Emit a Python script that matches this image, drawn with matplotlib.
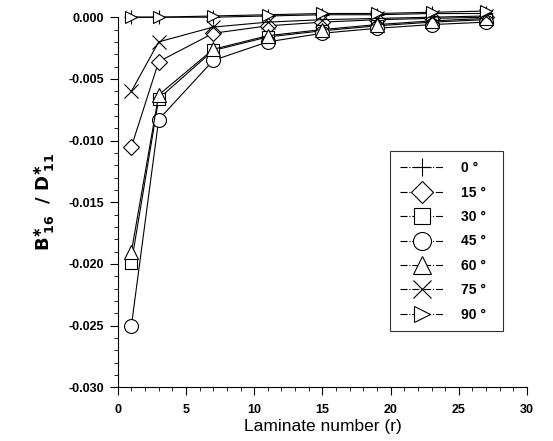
import matplotlib
matplotlib.use("Agg")
import matplotlib.pyplot as plt
from matplotlib.lines import Line2D
from matplotlib.ticker import MultipleLocator

plt.rcParams['font.family'] = ['Liberation Sans', 'DejaVu Sans']

# --- data ---
laminate = [1, 3, 7, 11, 15, 19, 23, 27]
angles = ['0', '15', '30', '45', '60', '75', '90']
b_0 = [0.0, 0.0, 0.0, 0.0001, 0.0002, 0.0002, 0.0003, 0.0003]
b_15 = [-0.0105, -0.0036, -0.0013, -0.0007, -0.0004, -0.0002, -0.0001, 0.0000]
b_30 = [-0.0199, -0.0066, -0.0027, -0.0016, -0.0011, -0.0007, -0.0004, -0.0002]
b_45 = [-0.0250, -0.0083, -0.0035, -0.0020, -0.0013, -0.0009, -0.0006, -0.0004]
b_60 = [-0.0190, -0.0063, -0.0026, -0.0015, -0.0010, -0.0006, -0.0003, -0.0001]
b_75 = [-0.0060, -0.0020, -0.0008, -0.0004, -0.0002, -0.0001, 0.0000, 0.0001]
b_90 = [0.0, 0.0, 0.0001, 0.0002, 0.0003, 0.0003, 0.0004, 0.0005]
series = [b_0, b_15, b_30, b_45, b_60, b_75, b_90]
markers = ['+', 'D', 's', 'o', '^', 'x', '>']
sizes = [10, 8, 9, 10, 10, 10, 9]

fig = plt.figure(figsize=(5.53, 4.41), dpi=100)
ax = fig.add_axes([0.213, 0.122, 0.740, 0.839])

for vals, m, s in zip(series, markers, sizes):
    ax.plot(laminate, vals, color='black', lw=0.8, marker=m, ms=s,
            mfc='white' if m not in ('+', 'x') else 'none', mec='black',
            mew=0.8, clip_on=False)

ax.set_xlim(0, 30)
ax.set_ylim(-0.030, 0.0)
ax.xaxis.set_major_locator(MultipleLocator(5))
ax.xaxis.set_minor_locator(MultipleLocator(1))
ax.yaxis.set_major_locator(MultipleLocator(0.005))
ax.yaxis.set_minor_locator(MultipleLocator(0.001))
ax.yaxis.set_major_formatter(matplotlib.ticker.FormatStrFormatter('%.3f'))
ax.tick_params(which='major', length=6, width=0.8, labelsize=9, direction='out', pad=6)
ax.tick_params(axis='y', which='major', pad=4)
ax.tick_params(which='minor', length=3, width=0.6, direction='out')
for lab in ax.get_xticklabels() + ax.get_yticklabels():
    lab.set_fontweight('bold')

ax.spines['top'].set_visible(False)
ax.spines['right'].set_visible(False)
ax.spines['left'].set_linewidth(0.8)
ax.spines['bottom'].set_linewidth(0.8)

ax.set_xlabel('Laminate number (r)', fontsize=12.5, labelpad=2)
ax.set_ylabel(r'$\mathbf{B^{\ast}_{\ 16}\ \ /\ D^{\ast}_{\ 11}}$', fontsize=13, labelpad=8)

handles = [Line2D([], [], color='black', lw=0.8, ls='-.', marker=m, ms=s + 3,
                  mfc='white' if m not in ('+', 'x') else 'none', mec='black', mew=0.8)
           for m, s in zip(markers, sizes)]
labels = [a + ' °' for a in angles]
leg = ax.legend(handles, labels, loc='lower left', bbox_to_anchor=(0.648, 0.132, 0.31, 0.50),
                mode='expand', frameon=True, fancybox=False, edgecolor='black',
                fontsize=10, handlelength=3.2, labelspacing=0.75, borderpad=0.7,
                handletextpad=1.2)
leg.get_frame().set_linewidth(0.8)
for t in leg.get_texts():
    t.set_fontweight('bold')

fig.savefig('out.png', dpi=100)
